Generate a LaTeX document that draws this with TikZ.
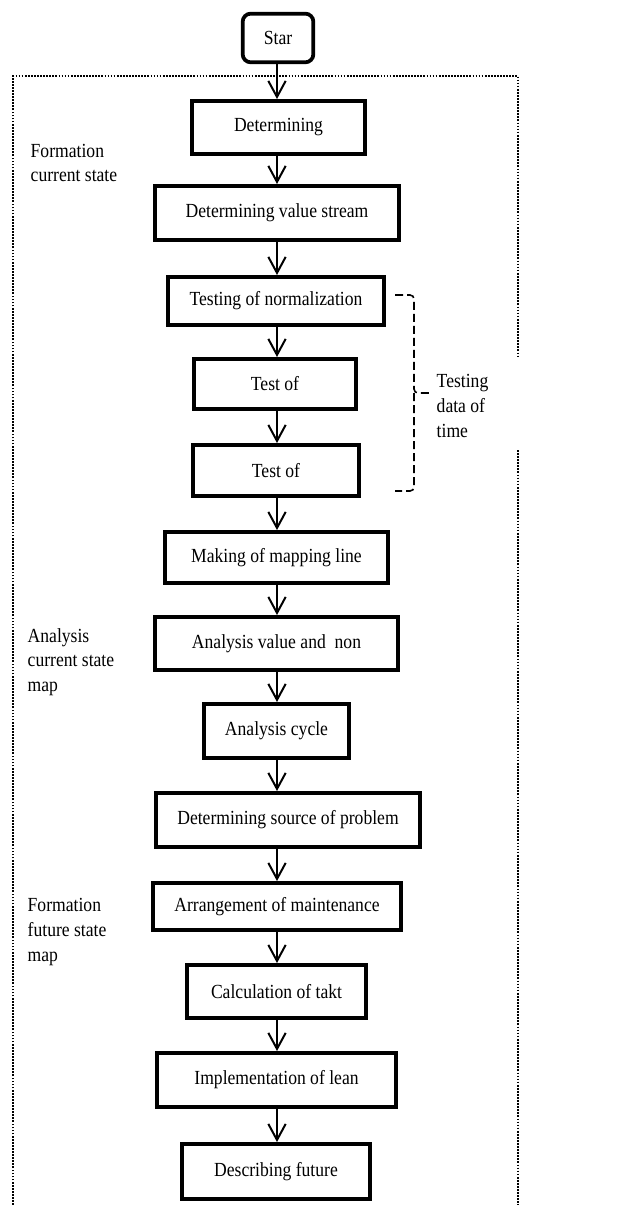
\documentclass[tikz,border=0pt]{standalone}
\usepackage{fontspec}
\setmainfont{Liberation Serif}[FakeStretch=0.88]
\usetikzlibrary{arrows.meta}

\begin{document}
\begin{tikzpicture}[x=0.75pt,y=-0.75pt,
    every node/.style={font=\fontsize{15pt}{18.4pt}\selectfont},
    stepbox/.style={draw,line width=3.2pt,inner sep=1pt},
    arr/.style={line width=1.5pt,-{Straight Barb[length=12pt,width=13pt,line width=1.5pt]}},
    frame/.style={line width=1.3pt,dash pattern=on 1.3pt off 1pt},
    bracket/.style={line width=1.2pt,dash pattern=on 6pt off 3pt,rounded corners=3pt}]
  \useasboundingbox (0,0) rectangle (629,1205);%

  %% start and the steps
  \node[stepbox,rounded corners=6pt,line width=2.8pt,minimum width=53pt,minimum height=36.5pt] (start) at (278,38) {Star};%
  \node[stepbox,minimum width=129.5pt,minimum height=39.5pt] (b1) at (278.5,127.5) {Determining};%
  \node[stepbox,minimum width=182.8pt,minimum height=40.3pt] (b2) at (277,213) {Determining value stream};%
  \node[stepbox,minimum width=161.8pt,minimum height=35.8pt] (b3) at (276,301) {Testing of normalization};%
  \node[stepbox,minimum width=121.3pt,minimum height=37.3pt] (b4) at (275,384) {Test of};%
  \node[stepbox,minimum width=124.3pt,minimum height=38pt] (b5) at (276,470.5) {Test of};%
  \node[stepbox,minimum width=167pt,minimum height=38pt] (b6) at (276.5,557.5) {Making of mapping line};%
  \node[stepbox,minimum width=182pt,minimum height=39.5pt] (b7) at (276.5,643.5) {Analysis value and~~non};%
  \node[stepbox,minimum width=108.5pt,minimum height=40.3pt] (b8) at (276.5,731) {Analysis cycle};%
  \node[stepbox,minimum width=197.8pt,minimum height=40.3pt] (b9) at (288,820) {Determining source of problem};%
  \node[stepbox,minimum width=185.8pt,minimum height=35pt] (b10) at (277,906.5) {Arrangement of maintenance};%
  \node[stepbox,minimum width=134pt,minimum height=39.5pt] (b11) at (276.5,991.5) {Calculation of takt};%
  \node[stepbox,minimum width=179pt,minimum height=40.3pt] (b12) at (276.5,1080) {Implementation of lean};%
  \node[stepbox,minimum width=140.8pt,minimum height=41pt] (b13) at (276,1171.5) {Describing future};%

  %% arrows all on one vertical
  \coordinate (axis) at (277,0);%
  \foreach \a/\b in {start/b1,b1/b2,b2/b3,b3/b4,b4/b5,b5/b6,b6/b7,b7/b8,b8/b9,b9/b10,b10/b11,b11/b12,b12/b13}
    \draw[arr] (\a.south -| axis) -- (\b.north -| axis);%

  %% phases on the left
  \node[anchor=west,align=left] (p1) at (26,163) {Formation\\current state};%
  \node[anchor=west,align=left] (p2) at (23,662) {Analysis\\current state\\map};%
  \node[anchor=west,align=left] (p3) at (23,932) {Formation\\future state\\map};%

  %% dotted frame, open at the bottom
  \draw[frame] (13,1205) -- (13,76) -- (518,76) -- (518,358);%
  \draw[frame] (518,450) -- (518,1205);%

  %% bracket for the time data
  \node[anchor=west,align=left] (tdata) at (432,406) {Testing\\data of\\time};%
  \draw[bracket] (395,295) -- (414,295) -- (414,393) -- (431,393);%
  \draw[bracket] (414,393) -- (414,491) -- (395,491);%
\end{tikzpicture}
\end{document}
